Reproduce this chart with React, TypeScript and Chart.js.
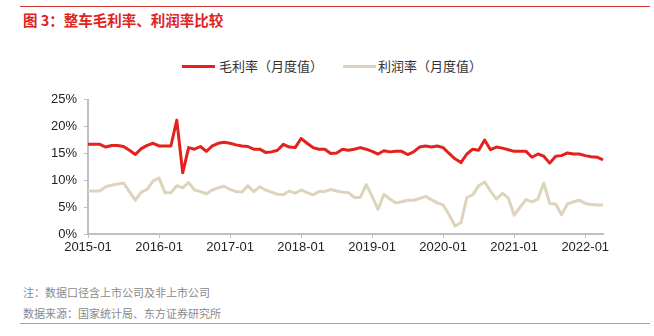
import React, { useEffect, useRef } from "react";
import { Chart, registerables } from "chart.js";

Chart.register(...registerables);

const START_YEAR = 2015;
const MONTH_COUNT = 88; // 2015-01 .. 2022-04

const months: string[] = [];
for (let i = 0; i < MONTH_COUNT; i++) {
  const y = START_YEAR + Math.floor(i / 12);
  const m = (i % 12) + 1;
  months.push(`${y}-${m < 10 ? "0" + m : m}`);
}

const xTickLabels = ["2015-01", "2016-01", "2017-01", "2018-01", "2019-01", "2020-01", "2021-01", "2022-01"];
const yTickValues = [0, 5, 10, 15, 20, 25];

const grossMargin = [
  16.7, 16.7, 16.7, 16.2, 16.5, 16.5, 16.3, 15.6, 14.8, 15.9, 16.5, 16.9,
  16.4, 16.4, 16.4, 21.2, 11.4, 16.1, 15.8, 16.3, 15.4, 16.4, 16.9, 17.1,
  16.9, 16.6, 16.4, 16.3, 15.8, 15.8, 15.2, 15.3, 15.6, 16.7, 16.2, 16.1,
  17.8, 16.9, 16.1, 15.8, 15.8, 15.0, 15.1, 15.8, 15.6, 15.8, 16.1, 15.8,
  15.4, 14.9, 15.5, 15.3, 15.4, 15.4, 14.8, 15.3, 16.2, 16.4, 16.2, 16.4,
  16.1, 15.0, 14.0, 13.3, 14.9, 15.8, 15.6, 17.5, 15.7, 16.2, 16.0, 15.7,
  15.4, 15.4, 15.4, 14.3, 14.9, 14.5, 13.2, 14.5, 14.6, 15.1, 14.9, 14.9,
  14.6, 14.4, 14.3, 13.8,
];

const profitMargin = [
  8.0, 8.0, 8.0, 8.8, 9.1, 9.3, 9.5, 7.9, 6.3, 7.8, 8.3, 9.9,
  10.4, 7.7, 7.7, 9.0, 8.6, 9.6, 8.2, 7.9, 7.5, 8.2, 8.6, 8.9,
  8.3, 7.9, 7.8, 9.0, 7.9, 8.8, 8.2, 7.8, 7.4, 7.3, 8.0, 7.6,
  8.2, 7.7, 7.3, 7.9, 7.9, 8.3, 8.0, 7.8, 7.7, 6.8, 6.8, 9.2,
  7.0, 4.6, 7.4, 6.5, 5.8, 6.0, 6.3, 6.3, 6.6, 7.0, 6.4, 5.8,
  5.4, 3.6, 1.5, 2.1, 6.8, 7.3, 9.0, 9.7, 8.0, 6.5, 7.6, 6.7,
  3.5, 5.0, 6.4, 6.0, 6.5, 9.5, 5.7, 5.6, 3.6, 5.6, 6.0, 6.3,
  5.7, 5.5, 5.4, 5.4,
];

const seriesNames = ["毛利率（月度值）", "利润率（月度值）"];
const RED = "#e4211c";
const BEIGE = "#ded4bc";
const AXIS = "#bfbfbf";
const LATIN = "'Liberation Sans', Arial, sans-serif";
const CJK = "'Noto Sans CJK SC', 'Noto Sans', sans-serif";

export default function App() {
  const ref = useRef<HTMLCanvasElement | null>(null);

  useEffect(() => {
    if (!ref.current) return;
    const chart = new Chart(ref.current, {
      type: "line",
      data: {
        labels: months,
        datasets: [
          {
            label: seriesNames[0],
            data: grossMargin,
            borderColor: RED,
            backgroundColor: RED,
            borderWidth: 3,
            pointRadius: 0,
            tension: 0,
            borderJoinStyle: "round",
          },
          {
            label: seriesNames[1],
            data: profitMargin,
            borderColor: BEIGE,
            backgroundColor: BEIGE,
            borderWidth: 3,
            pointRadius: 0,
            tension: 0,
            borderJoinStyle: "round",
          },
        ],
      },
      options: {
        responsive: false,
        animation: false,
        devicePixelRatio: 1,
        layout: { padding: { top: 12, right: 51, left: 0, bottom: 0 } },
        plugins: { legend: { display: false }, tooltip: { enabled: false } },
        scales: {
          x: {
            type: "category",
            offset: false,
            afterFit: (s: any) => {
              s.height = 26;
            },
            border: { color: AXIS, width: 2 },
            grid: {
              drawOnChartArea: false,
              tickLength: 4,
              color: (ctx: any) => (ctx.index % 12 === 0 ? AXIS : "rgba(0,0,0,0)"),
            },
            ticks: {
              autoSkip: false,
              maxRotation: 0,
              minRotation: 0,
              padding: 2,
              color: "#222",
              font: { family: LATIN, size: 13 },
              callback: (_v: any, i: number) => (i % 12 === 0 ? xTickLabels[i / 12] : ""),
            },
          },
          y: {
            min: yTickValues[0],
            max: yTickValues[yTickValues.length - 1],
            afterFit: (s: any) => {
              s.width = 88;
            },
            afterBuildTicks: (s: any) => {
              s.ticks = yTickValues.map((v) => ({ value: v }));
            },
            border: { color: AXIS, width: 2 },
            grid: { drawOnChartArea: false, tickLength: 4, color: AXIS },
            ticks: {
              padding: 7,
              color: "#222",
              font: { family: LATIN, size: 13 },
              callback: (v: any) => `${v}%`,
            },
          },
        },
      },
    });
    return () => chart.destroy();
  }, []);

  const legendText: React.CSSProperties = {
    position: "absolute",
    top: 58,
    height: 16,
    lineHeight: "16px",
    fontFamily: CJK,
    fontSize: 13,
    color: "#333",
    whiteSpace: "nowrap",
  };

  return (
    <div style={{ position: "absolute", left: 0, top: 0, width: 654, height: 336, background: "#fff", overflow: "hidden" }}>
      <div style={{ position: "absolute", left: 20, top: 6, width: 630, height: 1, background: "#d7342f" }} />
      <div
        style={{
          position: "absolute",
          left: 23,
          top: 10,
          height: 20,
          lineHeight: "20px",
          fontFamily: CJK,
          fontSize: 14.5,
          fontWeight: 700,
          color: "#e0231f",
          whiteSpace: "nowrap",
        }}
      >
        图 3：整车毛利率、利润率比较
      </div>

      <div style={{ position: "absolute", left: 182, top: 65, width: 33, height: 3, background: RED }} />
      <div style={{ ...legendText, left: 219 }}>{seriesNames[0]}</div>
      <div style={{ position: "absolute", left: 343, top: 65, width: 33, height: 3, background: BEIGE }} />
      <div style={{ ...legendText, left: 378 }}>{seriesNames[1]}</div>

      <canvas ref={ref} width={654} height={175} style={{ position: "absolute", left: 0, top: 85, width: 654, height: 175 }} />

      <div
        style={{
          position: "absolute",
          left: 23,
          top: 285,
          lineHeight: "15px",
          fontFamily: CJK,
          fontSize: 11,
          color: "#8a8a8a",
          whiteSpace: "nowrap",
        }}
      >
        注：数据口径含上市公司及非上市公司
      </div>
      <div
        style={{
          position: "absolute",
          left: 23,
          top: 306,
          lineHeight: "15px",
          fontFamily: CJK,
          fontSize: 11,
          color: "#8a8a8a",
          whiteSpace: "nowrap",
        }}
      >
        数据来源：国家统计局、东方证券研究所
      </div>
      <div style={{ position: "absolute", left: 20, top: 323, width: 630, height: 1, background: "#e98782" }} />
    </div>
  );
}
